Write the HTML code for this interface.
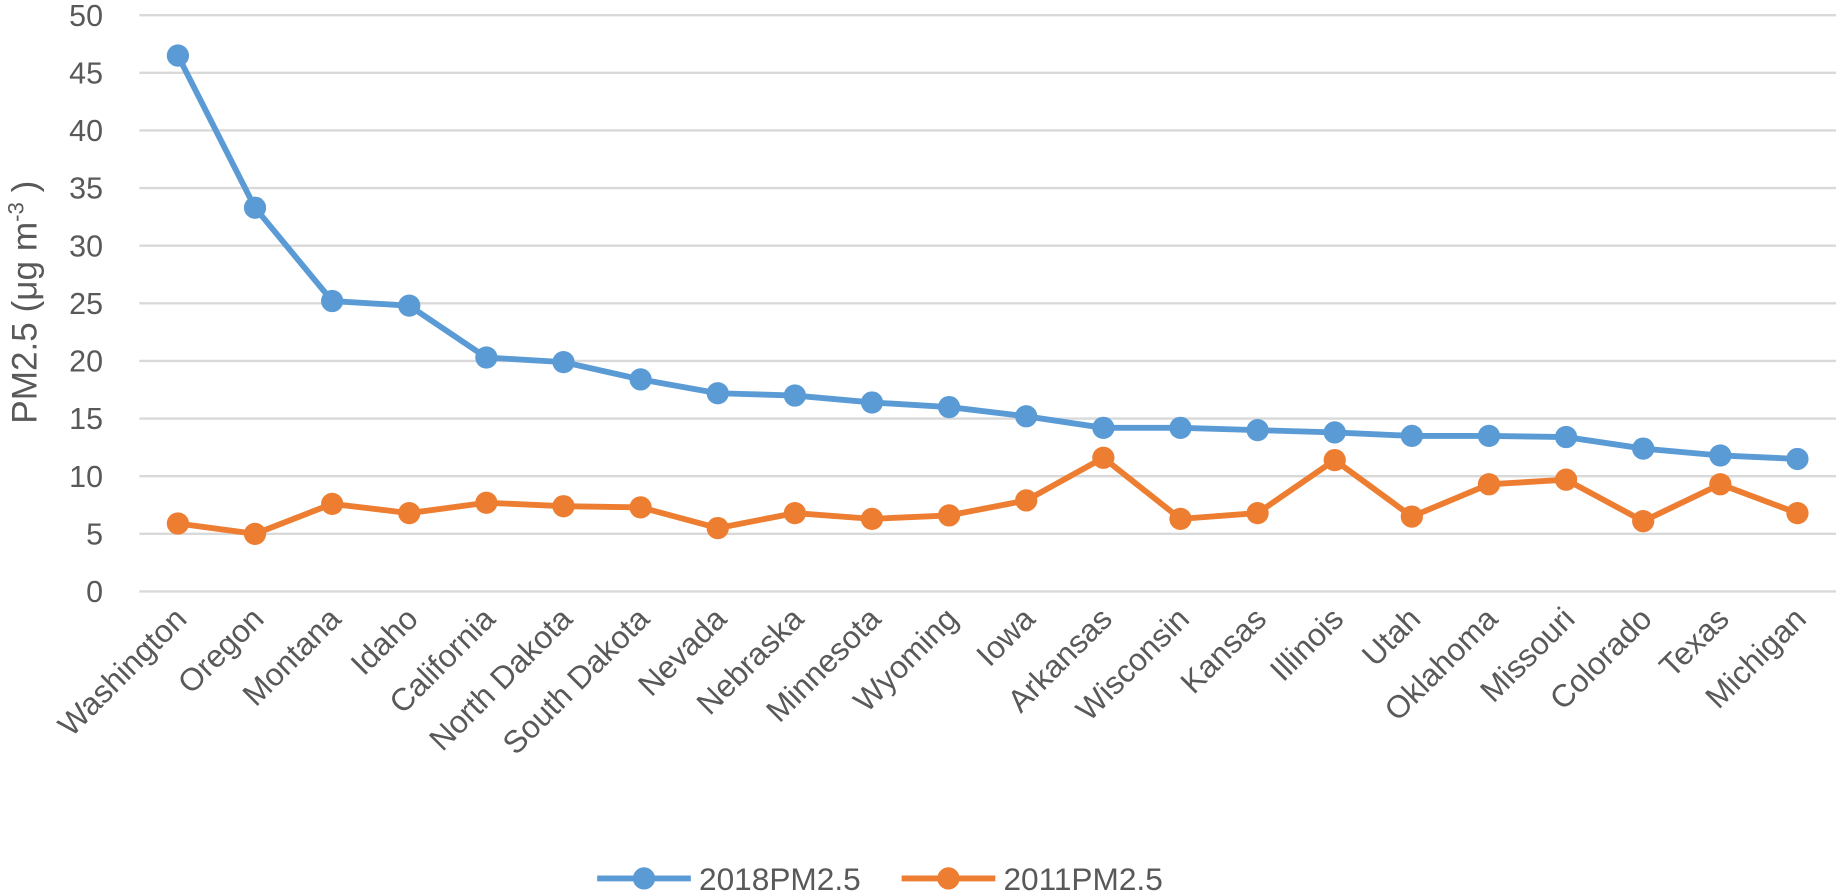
<!DOCTYPE html>
<html><head><meta charset="utf-8"><style>
html,body{margin:0;padding:0;background:#fff;overflow:hidden;}
svg{display:block;}
svg text{font-family:"Liberation Sans",sans-serif;fill:#595959;}
</style></head><body>
<svg id="chart" width="1836" height="896" viewBox="0 0 1568 765" preserveAspectRatio="none" xmlns="http://www.w3.org/2000/svg">
<g id="grid"></g>
<g id="yticks"></g>
<g id="xticks"></g>
<g id="series"></g>
<text transform="translate(31,258) rotate(-90)" text-anchor="middle" font-size="30">PM2.5 (μg m<tspan dy="-11" font-size="19">-3</tspan><tspan dy="11"> )</tspan></text>
<g>
<g>
<line x1="510" y1="750" x2="590" y2="750" stroke="#5b9bd5" stroke-width="5"/>
<circle cx="550" cy="750" r="9.5" fill="#5b9bd5"/>
<text x="597" y="760" font-size="27">2018PM2.5</text></g>
<g>
<line x1="770" y1="750" x2="850" y2="750" stroke="#ed7d31" stroke-width="5"/>
<circle cx="810" cy="750" r="9.5" fill="#ed7d31"/>
<text x="857" y="760" font-size="27">2011PM2.5</text></g>
</g>
</svg>
<script>
const categories=["Washington","Oregon","Montana","Idaho","California","North Dakota","South Dakota","Nevada","Nebraska","Minnesota","Wyoming","Iowa","Arkansas","Wisconsin","Kansas","Illinois","Utah","Oklahoma","Missouri","Colorado","Texas","Michigan"];
const pm2018=[46.5,33.3,25.2,24.8,20.3,19.9,18.4,17.2,17.0,16.4,16.0,15.2,14.2,14.2,14.0,13.8,13.5,13.5,13.4,12.4,11.8,11.5];
const pm2011=[5.9,5.0,7.6,6.8,7.7,7.4,7.3,5.5,6.8,6.3,6.6,7.9,11.6,6.3,6.8,11.4,6.5,9.3,9.7,6.1,9.3,6.8];
const yTicks=[0,5,10,15,20,25,30,35,40,45,50];
const NS="http://www.w3.org/2000/svg";
const L=119,R=1568,Y0=505,Y50=13;
const bw=(R-L)/categories.length;
function xs(i){return L+bw*(i+0.5);}
function ys(v){return Y0-(v/50)*(Y0-Y50);}
function mk(t,a,p){const e=document.createElementNS(NS,t);for(const k in a)e.setAttribute(k,a[k]);p.appendChild(e);return e;}
const grid=document.getElementById('grid'),yt=document.getElementById('yticks'),xt=document.getElementById('xticks'),se=document.getElementById('series');
yTicks.forEach(v=>{
 const l=mk('line',{x1:L,x2:R,y1:ys(v),y2:ys(v),stroke:'#d9d9d9','stroke-width':2},grid);
 
 
 const t=mk('text',{x:88,y:ys(v)+9,'text-anchor':'end','font-size':26},yt);
 t.textContent=v;
 
 
});
categories.forEach((c,i)=>{
 const x=xs(i)+9,y=530;
 const t=mk('text',{x:x,y:y,'text-anchor':'end','font-size':27,transform:`rotate(-45 ${x} ${y})`},xt);
 t.textContent=c;
 
 
});
function drawSeries(vals,color,name){
 const g=mk('g',{},se);
 
 
 const p=mk('polyline',{points:vals.map((v,i)=>xs(i)+','+ys(v)).join(' '),fill:'none',stroke:color,'stroke-width':5,'stroke-linejoin':'round'},g);
 
 
 vals.forEach((v,i)=>{
  const c=mk('circle',{cx:xs(i),cy:ys(v),r:9.5,fill:color},g);
  
  
 });
}
drawSeries(pm2011,'#ed7d31','2011');
drawSeries(pm2018,'#5b9bd5','2018');
</script>
</body></html>
